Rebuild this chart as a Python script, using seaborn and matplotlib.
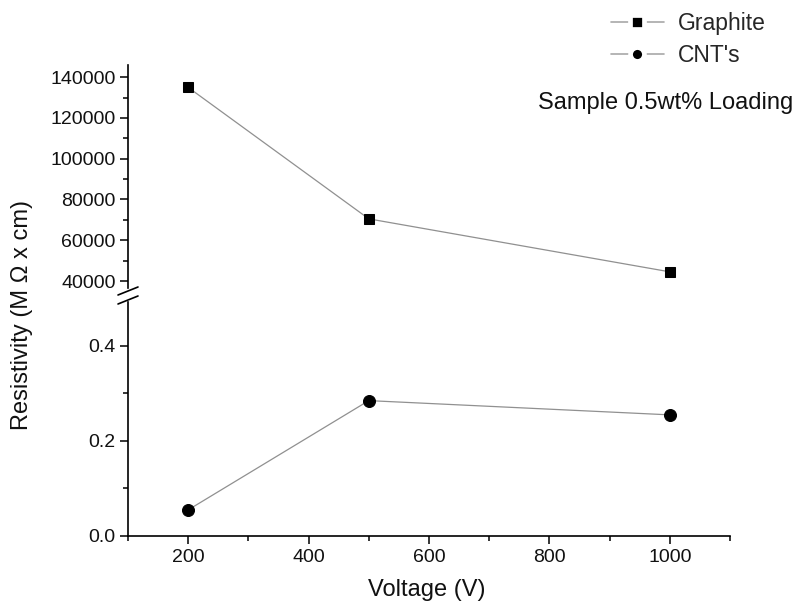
import matplotlib
matplotlib.use("Agg")
import matplotlib.pyplot as plt
from matplotlib.lines import Line2D
from matplotlib.ticker import MultipleLocator, FormatStrFormatter
import seaborn as sns
import pandas as pd

voltage = [200, 500, 1000]
graphite = [135000, 70500, 44500]
cnt = [0.055, 0.285, 0.255]

sns.set_theme(style="ticks")
plt.rcParams['font.family'] = ['Liberation Sans', 'DejaVu Sans']

fig = plt.figure(figsize=(7.96, 6.11), dpi=100)
L, R = 128/796, 730/796
ax_top = fig.add_axes([L, 1-288/611, R-L, (288-65)/611])
ax_bot = fig.add_axes([L, 1-536/611, R-L, (536-302)/611])

df = pd.DataFrame({"Voltage": voltage, "Graphite": graphite, "CNT": cnt})

line_kw = dict(color="#909090", linewidth=0.9,
               markerfacecolor="black", markeredgecolor="black")
sns.lineplot(data=df, x="Voltage", y="Graphite", ax=ax_top, marker="s",
             markersize=7.6, **line_kw)
sns.lineplot(data=df, x="Voltage", y="CNT", ax=ax_bot, marker="o",
             markersize=8.6, **line_kw)

for ax in (ax_top, ax_bot):
    ax.set_xlim(100, 1100)
    ax.spines['right'].set_visible(False)
    ax.spines['top'].set_visible(False)
    for s in ('left', 'bottom'):
        ax.spines[s].set_linewidth(1.2)
        ax.spines[s].set_color('black')
    ax.tick_params(which='major', direction='out', length=6, width=1.1, color='black',
                   labelsize=14, labelcolor='#111111', pad=3)
    ax.tick_params(which='minor', direction='out', length=3.5, width=1.1, color='black')
    ax.set_xlabel("")
    ax.set_ylabel("")

ax_top.set_ylim(36570, 146000)
ax_top.yaxis.set_major_locator(MultipleLocator(20000))
ax_top.yaxis.set_minor_locator(MultipleLocator(10000))
ax_top.spines['bottom'].set_visible(False)
ax_top.tick_params(axis='x', which='both', bottom=False, labelbottom=False)
ax_top.set_yticks([40000, 60000, 80000, 100000, 120000, 140000])
ax_top.set_yticklabels(["40000", "60000", "80000", "100000", "120000", "140000"])

ax_bot.set_ylim(0, 0.4926)
ax_bot.yaxis.set_major_locator(MultipleLocator(0.2))
ax_bot.yaxis.set_minor_locator(MultipleLocator(0.1))
ax_bot.xaxis.set_major_locator(MultipleLocator(200))
ax_bot.xaxis.set_minor_locator(MultipleLocator(100))
ax_bot.yaxis.set_major_formatter(FormatStrFormatter('%.1f'))
ax_bot.set_xticks([200, 400, 600, 800, 1000])

# break marks on the left spine
for yc in (291, 300):
    fig.add_artist(Line2D([(128 - 10)/796, (128 + 10)/796],
                          [1 - (yc + 4)/611, 1 - (yc - 4)/611],
                          color='black', lw=1.2, transform=fig.transFigure))

fig.text(22/796, 1-315/611, "Resistivity (M Ω x cm)", rotation=90, ha='center', va='center',
         fontsize=17, color='#111111')
fig.text(427/796, 1-590/611, "Voltage (V)", ha='center', va='center',
         fontsize=17, color='#111111')
fig.text(793/796, 1-103/611, "Sample 0.5wt% Loading", ha='right', va='center',
         fontsize=17, color='#111111')

handles = [
    Line2D([], [], color="#a8a8a8", lw=1.2, marker="s", markersize=9.4, markeredgewidth=3.4,
           markerfacecolor="black", markeredgecolor="white"),
    Line2D([], [], color="#a8a8a8", lw=1.2, marker="o", markersize=10.0, markeredgewidth=3.4,
           markerfacecolor="black", markeredgecolor="white"),
]
fig.legend(handles, ["Graphite", "CNT's"], loc='upper left',
           bbox_to_anchor=(611/796, 1 - 12/611), frameon=False, fontsize=16.5,
           handlelength=2.3, handletextpad=0.6, labelspacing=0.4, borderaxespad=0,
           borderpad=0)

fig.savefig("out.png", dpi=100)
